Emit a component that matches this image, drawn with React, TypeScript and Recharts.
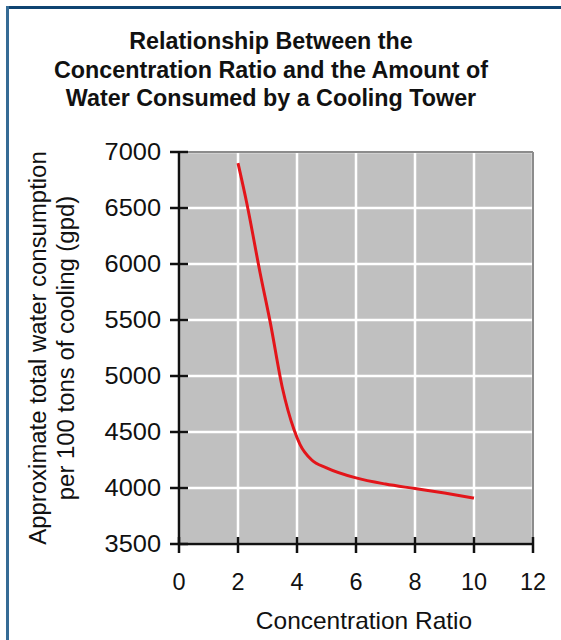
import React from "react";
import {
  LineChart,
  Line,
  XAxis,
  YAxis,
  CartesianGrid,
  ReferenceLine,
} from "recharts";

const ratio = [2, 2.3, 2.75, 3.1, 3.5, 3.9, 4.1, 4.5, 5, 6, 7, 8, 9, 10];
const gpd = [6900, 6540, 5920, 5470, 4900, 4520, 4390, 4250, 4180, 4090, 4035, 3995, 3955, 3910];
const xTicks = [0, 2, 4, 6, 8, 10, 12];
const yTicks = [3500, 4000, 4500, 5000, 5500, 6000, 6500, 7000];
const titleLines = [
  "Relationship Between the",
  "Concentration Ratio and the Amount of",
  "Water Consumed by a Cooling Tower",
];
const yTitleLines = [
  "Approximate total water consumption",
  "per 100 tons of cooling (gpd)",
];
const xTitle = "Concentration Ratio";

const data = ratio.map((r, i) => ({ ratio: r, gpd: gpd[i] }));

const FONT = '"Liberation Sans", Arial, Helvetica, sans-serif';
const W = 561;
const H = 640;
const PLOT_LEFT = 179;
const PLOT_RIGHT = 533;
const PLOT_TOP = 152;
const PLOT_BOTTOM = 544;

const XTick = (props: any) => {
  const { x, payload } = props;
  return (
    <g>
      <line x1={x} x2={x} y1={PLOT_BOTTOM - 7} y2={PLOT_BOTTOM + 9} stroke="#111" strokeWidth={2.5} />
      <text
        transform={`translate(${x} 590) scale(1.02 1)`}
        textAnchor="middle"
        fontSize={23}
        fontFamily={FONT}
        fill="#111"
      >
        {payload.value}
      </text>
    </g>
  );
};

const YTick = (props: any) => {
  const { y, payload } = props;
  return (
    <g>
      <line x1={PLOT_LEFT - 9} x2={PLOT_LEFT + 9} y1={y} y2={y} stroke="#111" strokeWidth={2.5} />
      <text
        transform={`translate(161 ${y}) scale(1.08 1)`}
        textAnchor="end"
        dy="0.36em"
        fontSize={23.5}
        fontFamily={FONT}
        fill="#111"
      >
        {payload.value}
      </text>
    </g>
  );
};

export default function App() {
  return (
    <div
      style={{
        position: "absolute",
        left: 0,
        top: 0,
        width: W,
        height: H,
        overflow: "hidden",
        background: "#fff",
        fontFamily: FONT,
      }}
    >
      <div style={{ position: "absolute", left: 6, top: 6, width: W, height: 2.5, background: "#0f4471" }} />
      <div style={{ position: "absolute", left: 6, top: 6, width: 2.5, height: H, background: "#356b95" }} />
      <div style={{ position: "absolute", left: 0, top: 0 }}>
        <LineChart
          width={W}
          height={H}
          data={data}
          margin={{ top: PLOT_TOP, left: PLOT_LEFT - 60, right: W - PLOT_RIGHT, bottom: H - PLOT_BOTTOM - 40 }}
        >
          <CartesianGrid stroke="#ffffff" strokeWidth={2.5} fill="#c0c0c0" />
          <ReferenceLine x={12} stroke="#8c8c8c" strokeWidth={2} />
          <ReferenceLine y={7000} stroke="#8c8c8c" strokeWidth={2} />
          <XAxis
            dataKey="ratio"
            type="number"
            domain={[0, 12]}
            ticks={xTicks}
            interval={0}
            height={40}
            tickLine={false}
            axisLine={{ stroke: "#111", strokeWidth: 2.5 }}
            tick={<XTick />}
          />
          <YAxis
            type="number"
            domain={[3500, 7000]}
            ticks={yTicks}
            interval={0}
            width={60}
            tickLine={false}
            axisLine={{ stroke: "#111", strokeWidth: 2.5 }}
            tick={<YTick />}
          />
          <Line
            dataKey="gpd"
            type="monotone"
            stroke="#e3151a"
            strokeWidth={3}
            dot={false}
            isAnimationActive={false}
          />
        </LineChart>
      </div>
      <svg width={W} height={H} style={{ position: "absolute", left: 0, top: 0, pointerEvents: "none" }}>
        {titleLines.map((t, i) => (
          <text
            key={t}
            transform={`translate(271 ${49 + i * 28.5}) scale(1.0 1)`}
            textAnchor="middle"
            fontSize={23.3}
            fontWeight="bold"
            fontFamily={FONT}
            fill="#111"
          >
            {t}
          </text>
        ))}
        {yTitleLines.map((t, i) => (
          <text
            key={t}
            transform={`translate(${46 + i * 28} 348) rotate(-90) scale(1.04 1)`}
            textAnchor="middle"
            fontSize={23}
            fontFamily={FONT}
            fill="#111"
          >
            {t}
          </text>
        ))}
        <text
          transform={`translate(364 629) scale(1.02 1)`}
          textAnchor="middle"
          fontSize={24}
          fontFamily={FONT}
          fill="#111"
        >
          {xTitle}
        </text>
      </svg>
    </div>
  );
}
